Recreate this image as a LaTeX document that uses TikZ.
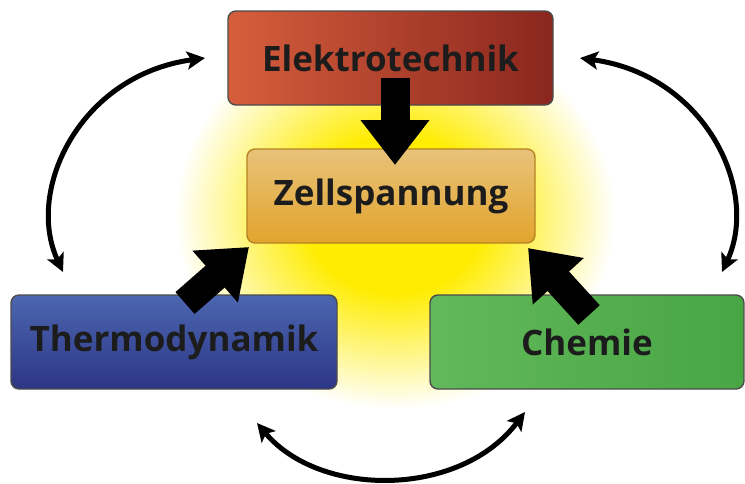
\documentclass[tikz,border=0pt]{standalone}
\usepackage{fontspec}
\setmainfont{Open Sans}
\usetikzlibrary{arrows.meta}

\definecolor{glowgelb}{RGB}{255,236,0}
\definecolor{etlinks}{RGB}{214,94,60}
\definecolor{etrechts}{RGB}{138,38,30}
\definecolor{zsoben}{RGB}{232,194,122}
\definecolor{zsunten}{RGB}{226,164,44}
\definecolor{thoben}{RGB}{76,102,176}
\definecolor{thunten}{RGB}{44,54,134}
\definecolor{chlinks}{RGB}{98,184,90}
\definecolor{chrechts}{RGB}{72,166,68}
\definecolor{schrift}{RGB}{28,28,28}

\pgfdeclareradialshading{glow}{\pgfpoint{0bp}{0bp}}{color(0bp)=(glowgelb); color(10bp)=(glowgelb); color(25bp)=(white); color(50bp)=(white)}

\begin{document}
\begin{tikzpicture}[x=0.5pt, y=-0.5pt,
    box/.style={rectangle, rounded corners=4pt, draw=black!70, line width=0.7pt, minimum height=47pt, text=schrift, font=\bfseries\fontsize{17.5}{20}\selectfont},
    flow/.style={line width=14.5pt, -{Triangle[length=22.5pt, width=33pt]}},
    link/.style={line width=2.5pt, {Stealth[length=9pt, width=9pt, inset=2pt]}-{Stealth[length=9pt, width=9pt, inset=2pt]}}
]
    \useasboundingbox (0,0) rectangle (745,483);
    \fill[white] (0,0) rectangle (745,483);

    % Leuchten hinter der Zellspannung
    \shade[shading=glow] (395,215) ellipse [x radius=110pt, y radius=97pt];

    % Wechselwirkungen
    \coordinate (th-oben) at (63,272);
    \coordinate (et-links) at (205,58);
    \coordinate (et-rechts) at (580,58);
    \coordinate (ch-oben) at (722,272);
    \coordinate (th-unten) at (257,423);
    \coordinate (ch-unten) at (525,412);
    \draw[link] (th-oben) .. controls (25,190) and (80,75) .. (et-links);
    \draw[link] (ch-oben) .. controls (760,190) and (705,75) .. (et-rechts);
    \draw[link] (th-unten) .. controls (320,498) and (460,498) .. (ch-unten);

    % Bereiche
    \node[box, minimum width=162.5pt, left color=etlinks, right color=etrechts] (et) at (390.5,58) {Elektrotechnik};
    \node[box, minimum width=144pt, draw=zsunten!80!black, top color=zsoben, bottom color=zsunten] (zs) at (391,196) {Zellspannung};
    \node[box, minimum width=163pt, top color=thoben, bottom color=thunten] (th) at (174,342) {Thermodynamik};
    \node[box, minimum width=157pt, left color=chlinks, right color=chrechts] (ch) at (587,342) {Chemie};

    % Einfluss auf die Zellspannung
    \coordinate (et-aus) at (395,78);
    \coordinate (zs-oben) at (395,165);
    \coordinate (th-aus) at (185,303);
    \coordinate (zs-links) at (249,247);
    \coordinate (ch-aus) at (589,315);
    \coordinate (zs-rechts) at (528,248);
    \draw[flow] (et-aus) -- (zs-oben);
    \draw[flow] (th-aus) -- (zs-links);
    \draw[flow] (ch-aus) -- (zs-rechts);
\end{tikzpicture}
\end{document}
